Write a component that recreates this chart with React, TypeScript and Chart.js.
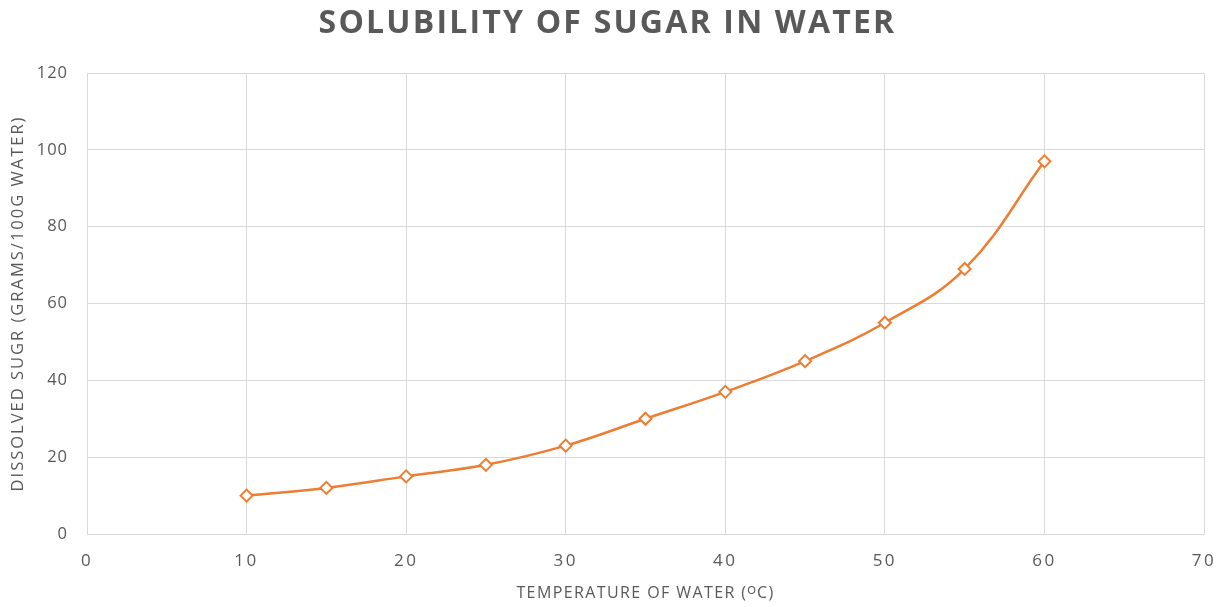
import React, { useEffect, useRef } from "react";
import { Chart, registerables } from "chart.js";

Chart.register(...registerables);

const temperatures = [10, 15, 20, 25, 30, 35, 40, 45, 50, 55, 60];
const dissolved = [10, 12, 15, 18, 23, 30, 37, 45, 55, 69, 97];
const titleText = "SOLUBILITY OF SUGAR IN WATER";
const xTitle = "TEMPERATURE OF WATER (\u1D3CC)";
const yTitle = "DISSOLVED SUGR (GRAMS/100G WATER)";

const ORANGE = "#ED7D31";
const GRAY = "#595959";
const GRID = "#d9d9d9";
const FONT = "'Open Sans', sans-serif";

function spaced(obj: any, key: string, sp: string) {
  if (!obj || obj["__sp_" + key]) return;
  const orig = obj[key];
  obj[key] = function (...args: any[]) {
    const ctx = this.ctx;
    const prev = ctx.letterSpacing;
    ctx.letterSpacing = sp;
    const r = orig.apply(this, args);
    ctx.letterSpacing = prev;
    return r;
  };
  obj["__sp_" + key] = true;
}

const spacingPlugin = {
  id: "spacingPlugin",
  beforeDraw(chart: any) {
    spaced(chart.titleBlock, "draw", "2.2px");
    const x = chart.scales.x;
    const y = chart.scales.y;
    spaced(x, "drawLabels", "2.5px");
    spaced(x, "drawTitle", "1.4px");
    spaced(y, "drawLabels", "1px");
    spaced(y, "drawTitle", "2px");
  },
};

export default function App() {
  const ref = useRef<HTMLCanvasElement | null>(null);
  useEffect(() => {
    if (!ref.current) return;
    const chart = new Chart(ref.current, {
      type: "line",
      plugins: [spacingPlugin],
      data: {
        datasets: [
          {
            data: temperatures.map((t, i) => ({ x: t, y: dissolved[i] })),
            borderColor: ORANGE,
            borderWidth: 2.5,
            backgroundColor: "#ffffff",
            pointStyle: "rectRot",
            pointRadius: 6,
            pointBorderWidth: 2,
            pointBorderColor: ORANGE,
            pointBackgroundColor: "#ffffff",
            tension: 0.4,
            fill: false,
          },
        ],
      },
      options: {
        animation: false,
        responsive: true,
        maintainAspectRatio: false,
        layout: { padding: { left: 0, right: 10, top: 0, bottom: 0 } },
        plugins: {
          legend: { display: false },
          tooltip: { enabled: false },
          title: {
            display: true,
            text: titleText,
            color: GRAY,
            font: { family: FONT, size: 32, weight: "bold", lineHeight: 1.2 },
            padding: { top: 5, bottom: 29.6 },
          },
        },
        scales: {
          x: {
            type: "linear",
            min: 0,
            max: 70,
            ticks: {
              stepSize: 10,
              color: GRAY,
              padding: 17,
              font: { family: FONT, size: 17 },
            },
            grid: { color: GRID, lineWidth: 1, drawTicks: false },
            border: { color: GRID, width: 1 },
            title: {
              display: true,
              text: xTitle,
              color: GRAY,
              font: { family: FONT, size: 16, lineHeight: 1.2 },
              padding: { top: 0, bottom: 4.4 },
            },
            afterFit: (scale: any) => {
              scale.height = 73;
              scale.paddingLeft = 0;
              scale.paddingRight = 21;
            },
          },
          y: {
            min: 0,
            max: 120,
            ticks: {
              stepSize: 20,
              color: GRAY,
              padding: 19,
              font: { family: FONT, size: 16.5 },
            },
            grid: { color: GRID, lineWidth: 1, drawTicks: false },
            border: { color: GRID, width: 1 },
            title: {
              display: true,
              text: yTitle,
              color: GRAY,
              font: { family: FONT, size: 16.5, lineHeight: 1.2 },
              padding: { top: 8, bottom: 0 },
            },
            afterFit: (scale: any) => {
              scale.width = 87;
            },
          },
        },
      },
    });
    return () => chart.destroy();
  }, []);
  return (
    <div style={{ position: "absolute", left: 0, top: 0, width: 1225, height: 607, background: "#fff" }}>
      <canvas ref={ref} />
    </div>
  );
}
